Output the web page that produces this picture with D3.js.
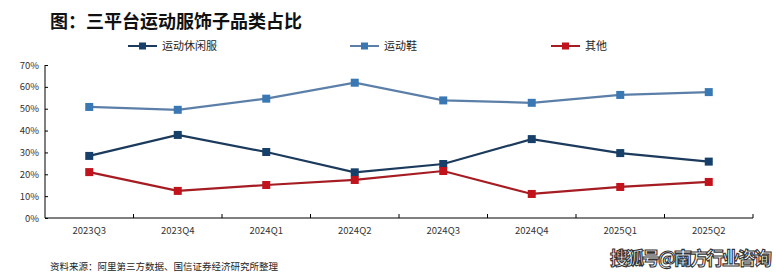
<!DOCTYPE html>
<html>
<head>
<meta charset="utf-8">
<script src="https://cdn.jsdelivr.net/npm/d3@7/dist/d3.min.js"></script>
<style>
  body { margin: 0; background: #fff; }
  svg text { font-family: "Noto Sans CJK SC", "Noto Sans", sans-serif; }
</style>
</head>
<body>
<svg></svg>
<script>
var width = 776;
var height = 277;

// data
var quarters = ["2023Q3", "2023Q4", "2024Q1", "2024Q2", "2024Q3", "2024Q4", "2025Q1", "2025Q2"];
var casualWear = [0.284, 0.380, 0.302, 0.209, 0.247, 0.361, 0.297, 0.258];
var sportShoes = [0.508, 0.495, 0.546, 0.619, 0.538, 0.527, 0.563, 0.576];
var others = [0.210, 0.124, 0.151, 0.174, 0.215, 0.110, 0.142, 0.165];
var yTicks = [0, 0.1, 0.2, 0.3, 0.4, 0.5, 0.6, 0.7];

var series = [
  {name: "运动休闲服", values: casualWear, line: "#1b3a5c", mark: "#16406a", lx: 128},
  {name: "运动鞋", values: sportShoes, line: "#5b7fa8", mark: "#3a78b4", lx: 350},
  {name: "其他", values: others, line: "#a51c22", mark: "#c0131b", lx: 551}
];

var margin = {left: 45, right: 23, top: 65, bottom: 59};

var svg = d3.select("svg")
    .attr("width", width)
    .attr("height", height);

var x = d3.scaleBand()
    .domain(quarters)
    .range([margin.left, width - margin.right]);

var y = d3.scaleLinear()
    .domain([0, 0.7])
    .range([height - margin.bottom, margin.top]);

// title
svg.append("text")
    .attr("x", 50)
    .attr("y", 28)
    .style("font-size", "18px")
    .style("font-weight", "bold")
    .style("fill", "#111")
    .text("图：三平台运动服饰子品类占比");

// legend
var leg = svg.append("g").selectAll("g")
    .data(series)
    .enter().append("g")
    .attr("transform", function(d) { return "translate(" + d.lx + ",46)"; });
leg.append("line")
    .attr("x1", 0).attr("x2", 29)
    .style("stroke", function(d) { return d.line; })
    .style("stroke-width", 2);
leg.append("rect")
    .attr("x", 11).attr("y", -3.5)
    .attr("width", 7).attr("height", 7)
    .style("fill", function(d) { return d.mark; });
leg.append("text")
    .attr("x", 34).attr("y", 4)
    .style("font-size", "11px")
    .style("fill", "#222")
    .text(function(d) { return d.name; });

// y axis
var yAxis = d3.axisLeft(y)
    .tickValues(yTicks)
    .tickFormat(d3.format(".0%"))
    .tickSize(-3)
    .tickPadding(6);
var gy = svg.append("g")
    .attr("transform", "translate(" + margin.left + ",0)")
    .call(yAxis);
gy.select(".domain").attr("d", "M0," + y(0.7) + "V" + y(0)).style("stroke", "#000");
gy.selectAll("text").style("font-size", "9.5px").style("fill", "#333");

// x axis with ticks between categories
var gx = svg.append("g")
    .attr("transform", "translate(0," + y(0) + ")")
    .call(d3.axisBottom(x).tickSize(0).tickPadding(9));
gx.select(".domain").attr("d", "M" + margin.left + ",0H" + (width - margin.right)).style("stroke", "#000");
gx.selectAll("text").style("font-size", "9.5px").style("fill", "#333");
gx.selectAll(".sep")
    .data(quarters)
    .enter().append("line")
    .attr("x1", function(d) { return x(d) + x.bandwidth(); })
    .attr("x2", function(d) { return x(d) + x.bandwidth(); })
    .attr("y1", 0).attr("y2", -4)
    .style("stroke", "#000");

// lines + markers
var line = d3.line()
    .x(function(d, i) { return x(quarters[i]) + x.bandwidth() / 2; })
    .y(function(d) { return y(d); });

var sg = svg.append("g").selectAll("g")
    .data(series)
    .enter().append("g");
sg.append("path")
    .attr("d", function(d) { return line(d.values); })
    .style("fill", "none")
    .style("stroke", function(d) { return d.line; })
    .style("stroke-width", 2.2);
sg.each(function(s) {
  d3.select(this).selectAll("rect")
    .data(s.values)
    .enter().append("rect")
    .attr("x", function(d, i) { return x(quarters[i]) + x.bandwidth() / 2 - 4; })
    .attr("y", function(d) { return y(d) - 4; })
    .attr("width", 8).attr("height", 8)
    .style("fill", s.mark);
});

// source note
svg.append("text")
    .attr("x", 50)
    .attr("y", 270)
    .style("font-size", "9.5px")
    .style("fill", "#222")
    .text("资料来源：阿里第三方数据、国信证券经济研究所整理");

// watermark
svg.append("text")
    .attr("x", 772)
    .attr("y", 265)
    .attr("text-anchor", "end")
    .attr("textLength", 162)
    .style("font-size", "18px")
    .style("font-weight", "bold")
    .style("fill", "#fff")
    .style("stroke", "#333")
    .style("stroke-width", 1.1)
    .text("搜狐号@南方行业咨询");
</script>
</body>
</html>
